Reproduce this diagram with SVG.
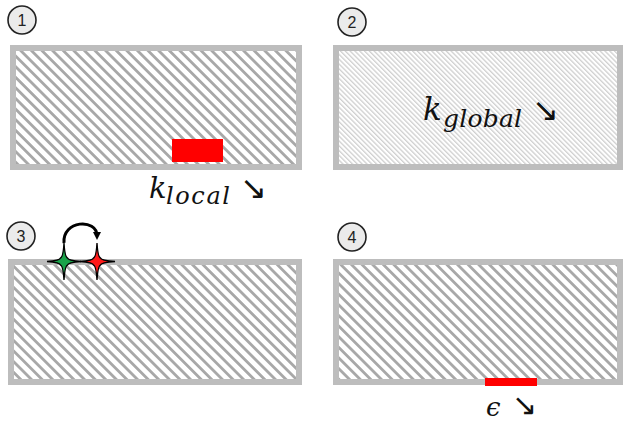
<svg xmlns="http://www.w3.org/2000/svg" width="625" height="423" viewBox="0 0 625 423">
<style>
.frame{stroke:#bdbdbd;stroke-width:6}
.num{fill:#ebebeb;stroke:#222;stroke-width:1.6}
.numt{font-family:"Liberation Sans",Arial,sans-serif;font-size:16px;fill:#222;text-anchor:middle}
.math{font-family:"DejaVu Serif","Liberation Serif",serif;font-style:italic;fill:#111}
.arr{font-family:"DejaVu Sans",sans-serif;fill:#111}
.star{stroke:#000;stroke-width:1.3;stroke-linejoin:miter}
</style>
<defs>
<pattern id="hatch" width="7.5" height="7.5" patternUnits="userSpaceOnUse" patternTransform="rotate(-45)">
<rect width="7.5" height="7.5" fill="#fff"/>
<rect width="2.8" height="7.5" fill="#a8a8a8"/>
</pattern>
<pattern id="fine" width="3.4" height="3.4" patternUnits="userSpaceOnUse" patternTransform="rotate(-45)">
<rect width="3.4" height="3.4" fill="#fff"/>
<rect width="1.3" height="3.4" fill="#cfcfcf"/>
</pattern>
<marker id="ah" markerWidth="8" markerHeight="8" refX="4" refY="4" orient="auto" markerUnits="userSpaceOnUse">
<path d="M0,0 L8,4 L0,8 Z" fill="#000"/>
</marker>
</defs>

<g id="panel1">
<rect class="frame" x="13" y="48" width="286" height="119" fill="url(#hatch)"/>
<rect x="172" y="139" width="51" height="23" fill="#ff0000"/>
<circle class="num" cx="22" cy="20" r="14"/>
<text class="numt" x="22" y="26">1</text>
<text class="math" x="149" y="198" font-size="29">k</text>
<text class="math" x="166" y="204" font-size="24" textLength="64" lengthAdjust="spacing">local</text>
<text class="arr" x="240" y="199" font-size="32">↘</text>
</g>

<g id="panel2">
<rect class="frame" x="336" y="48" width="284" height="119" fill="url(#fine)"/>
<circle class="num" cx="352" cy="22" r="14"/>
<text class="numt" x="352" y="28">2</text>
<text class="math" x="423" y="120" font-size="31">k</text>
<text class="math" x="443" y="127" font-size="25" textLength="79" lengthAdjust="spacing">global</text>
<text class="arr" x="532" y="121" font-size="32">↘</text>
</g>

<g id="panel3">
<rect class="frame" x="11" y="262" width="288" height="120" fill="url(#hatch)"/>
<circle class="num" cx="21" cy="236" r="14"/>
<text class="numt" x="21" y="242">3</text>
<path class="star" fill="#1aa34a" d="M64,243 Q65,257.5 67.5,258 Q68,260.5 81,261.5 Q68,262.5 67.5,265 Q65,265.5 64,280 Q63,265.5 60.5,265 Q60,262.5 47,261.5 Q60,260.5 60.5,258 Q63,257.5 64,243 Z"/>
<path class="star" fill="#ff1a1a" d="M97,243 Q98,257.5 100.5,258 Q101,260.5 115,261.5 Q101,262.5 100.5,265 Q98,265.5 97,280 Q96,265.5 93.5,265 Q93,262.5 80,261.5 Q93,260.5 93.5,258 Q96,257.5 97,243 Z"/>
</g>

<g id="panel4">
<rect class="frame" x="336" y="262" width="284" height="120" fill="url(#hatch)"/>
<rect x="485" y="378" width="52" height="8" fill="#ff0000"/>
<circle class="num" cx="352" cy="237" r="14"/>
<text class="numt" x="352" y="243">4</text>
<text class="math" x="486" y="416" font-size="26" font-style="normal">ϵ</text>
<text class="arr" x="512" y="415" font-size="30">↘</text>
</g>

<g id="connectors">
<path d="M64,243 C62,220 97,218 97,236" fill="none" stroke="#000" stroke-width="3" marker-end="url(#ah)"/>
</g>
</svg>
